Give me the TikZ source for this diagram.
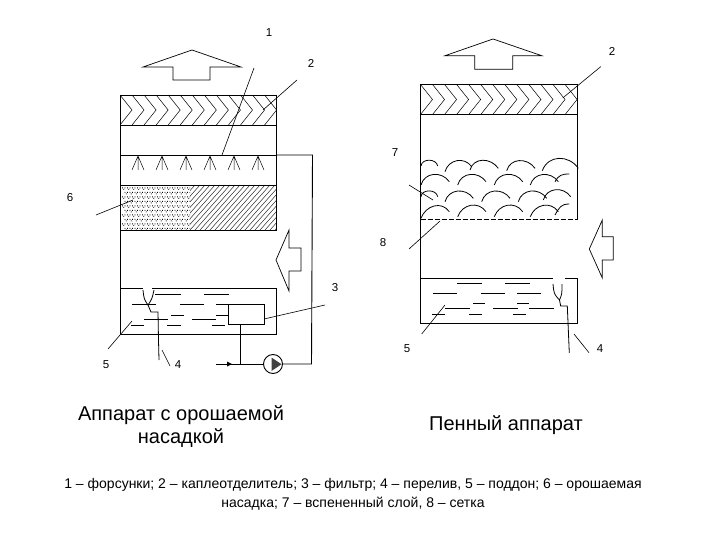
\documentclass[tikz,border=0pt]{standalone}
\usepackage{fontspec}
\setmainfont{Liberation Sans}
\usetikzlibrary{positioning, calc}

\newcommand{\chevrons}[2]{%
    \foreach \k in {0,...,12} {
        \draw[hatch] (#1+\k*12.05,#2) -- (#1+12+\k*12.05,#2+15) -- (#1+\k*12.05,#2+30);
    }
}

\begin{document}
\begin{tikzpicture}[
        x=1pt, y=-1pt,
        wall/.style={line width=0.9pt},
        hatch/.style={line width=0.5pt},
        leader/.style={line width=0.6pt},
        water/.style={line width=0.8pt},
        flowarrow/.style={line width=0.7pt},
        num/.style={font=\fontsize{11.5}{13}\selectfont, inner sep=0pt},
        caption/.style={font=\fontsize{20}{23}\selectfont, align=center, inner sep=0pt},
        legend/.style={font=\fontsize{14}{19}\selectfont, align=center, inner sep=0pt}
    ]
        \useasboundingbox (0,0) rectangle (720,540);

        % left apparatus
        \begin{scope}
            \clip (120,95) rectangle (276,125);
            \chevrons{120}{95}
        \end{scope}
        \begin{scope}
            \clip (190,185) rectangle (276,230);
            \foreach \k in {0,...,26} {
                \draw[line width=0.4pt] (190+\k*5-40,230) -- (190+\k*5,185);
            }
        \end{scope}
        \begin{scope}
            \clip (120,185) rectangle (190,230);
            \foreach \r in {0,...,9} {
                \foreach \c in {0,...,13} {
                    \fill ({122+\c*5+mod(\r,2)*2.5},{187.5+\r*4.5}) rectangle +(0.8,0.8)
                        ++(1.3,1.5) rectangle +(0.8,0.8)
                        ++(1.3,-1.5) rectangle +(0.8,0.8);
                }
            }
        \end{scope}
        \draw[wall] (120,95) rectangle (276,125);
        \draw[wall] (120,155) -- (276,155);
        \draw[wall] (120,185) rectangle (276,230);
        \draw[wall] (276,125) -- (276,185);
        \draw[wall] (120,125) -- (120,334) -- (276,334) -- (276,288);
        \foreach \x in {138,162,186,210,234,258} {
            \draw[hatch] (\x-6,170) -- (\x,156) -- (\x+6,170) (\x,156) -- (\x,170);
        }

        % water and overflow, left
        \draw[water] (121,288) -- (143,288) (152,288) -- (276,288);
        \foreach \xa/\xb/\y in {155/181/294, 204/229/294, 132/156/304, 180/204/304, 216/228/304,
                171/184/315, 216/228/315, 144/168/319, 192/216/319,
                131/144/325, 167/181/325, 212/225/325} {
            \draw[water] (\xa,\y) -- (\xb,\y);
        }
        \draw[water] (143,290) .. controls (144,299) .. (148,305) .. controls (152,299) .. (154,290);
        \draw[water] (148,305) -- (151,312) -- (158,312) -- (158.5,340) -- (159,360);

        % filter, pump and pipe
        \node[draw, wall, fill=white, minimum width=36pt, minimum height=20pt, inner sep=0pt] (filter) at (246.2,314) {};
        \node[draw, wall, circle, fill=white, minimum width=19pt, inner sep=0pt] (pump) at (273,364) {};
        \fill[black!75] (271.5,357.5) -- (281.5,364.2) -- (271.5,371) -- cycle;
        \coordinate (inlet) at (216,364);
        \coordinate (tee) at (240,364);
        \coordinate (corner) at (311.5,364);
        \coordinate (top) at (312.5,155);
        \draw[wall] (inlet) -- (pump);
        \draw[wall] (tee) -- (tee |- filter.south);
        \draw[wall] (pump) -- (corner) -- (top) -- (276,155);
        \fill (227,361.5) -- (232,364) -- (227,366.5) -- cycle;

        \draw[flowarrow] (192,50) -- (143,67) -- (173,67) -- (173,80) -- (210,80) -- (210,67) -- (241,67) -- cycle;
        \draw[flowarrow] (276,260) -- (289,230) -- (289,248) -- (301,248) -- (301,271) -- (289,271) -- (289,291) -- cycle;

        % right apparatus
        \begin{scope}
            \clip (420.5,84.5) rectangle (577.5,114.5);
            \chevrons{420.5}{84.5}
        \end{scope}
        \draw[wall] (420.5,84.5) rectangle (577.5,114.5);
        \draw[wall] (420.5,114) -- (420.5,323) -- (577.5,323) -- (577.5,278);
        \draw[wall] (577.5,114) -- (577.5,219);
        \draw[wall, dash pattern=on 5pt off 2pt] (420.5,219) -- (577.5,219);

        % foam
        \foreach \xa/\ya/\xb/\yb/\oa/\ob in {
                421/166/437.7/166/85/100, 445/171.7/471.7/166.7/75/125, 470/170/498.3/168.3/75/125,
                506.7/170.7/535/168.3/75/125, 542.3/170.7/578.3/168.3/70/125,
                421/185/449.3/181.7/75/125, 457.7/185/486/181.7/75/125, 494.3/185/522.7/181.7/75/125,
                530.3/185/558.3/181.7/75/125, 555/181.7/569.3/174/60/180,
                421/196.7/437.7/196.7/85/100, 445/201.7/473.3/198.3/75/125, 481.7/201.7/510/198.3/75/125,
                518.3/201.7/546.7/198.3/75/125, 543.3/200/570.7/196.7/75/125,
                421/218.3/449.3/211.7/70/125, 457.7/216.7/486/211.7/70/125, 494.3/216.7/522.7/211.7/70/125,
                530.3/216.7/558.3/211.7/70/125, 555/215/569.3/204/60/180} {
            \draw[water] (\xa,\ya) to[out=\oa, in=\ob, looseness=1.2] (\xb,\yb);
        }

        % water and overflow, right
        \draw[water] (420.5,278.5) -- (553,278.5) (565,278.5) -- (577.5,278.5);
        \foreach \xa/\xb/\y in {457/482/283, 505/530/283, 433/457/293, 481/505/293, 517/541/293,
                473/485/303, 517/529/303, 445/470/308, 493/518/308, 529/554/308,
                432/445/314, 469/482/314, 513/526/314} {
            \draw[water] (\xa,\y) -- (\xb,\y);
        }
        \draw[water] (553,284) .. controls (554,294) .. (559.5,300) .. controls (562,294) .. (562,284);
        \draw[water] (559.5,300) -- (560.7,306) -- (567.3,306) -- (569.3,353);

        \draw[flowarrow] (493,39) -- (445,55.7) -- (474.7,55.7) -- (474.7,69.3) -- (512.7,69.3) -- (512.7,55.7) -- (541.7,55.7) -- cycle;
        \draw[flowarrow] (589.3,249) -- (602.3,220) -- (602.3,236.7) -- (613.3,236.7) -- (613.3,260) -- (602.3,260) -- (602.3,278) -- cycle;

        % leader lines
        \foreach \n/\xa/\ya/\xb/\yb in {a/254/68/222/155, b/297/80/263/110, c/325/305/264/319,
                d/170/366/162/350, e/108/349/132/321, f/96/215/133/200,
                g/600.7/66.7/562.7/98, h/409/185/433/200, i/409/249/440/221,
                j/421.7/334/445/305, k/589/352.7/574/334} {
            \coordinate (from\n) at (\xa,\ya);
            \coordinate (to\n) at (\xb,\yb);
            \draw[leader] (from\n) -- (to\n);
        }

        % numbers
        \node[num] (n1) at (269,33) {1};
        \node[num] (n2) at (311,63) {2};
        \node[num] (n3) at (335,288) {3};
        \node[num] (n4) at (178,365) {4};
        \node[num] (n5) at (106,365) {5};
        \node[num] (n6) at (70,198) {6};
        \node[num] (m2) at (612,51) {2};
        \node[num] (m7) at (395,153) {7};
        \node[num] (m8) at (383,243) {8};
        \node[num] (m5) at (407,349) {5};
        \node[num] (m4) at (600,349) {4};

        % captions
        \node[caption] (capleft) at (181,427) {Аппарат с орошаемой\\насадкой};
        \node[caption] (capright) at (506,425) {Пенный аппарат};
        \node[legend] (key) at (353,494) {1 – форсунки; 2 – каплеотделитель; 3 – фильтр; 4 – перелив, 5 – поддон; 6 – орошаемая\\насадка; 7 – вспененный слой, 8 – сетка};
    \end{tikzpicture}
\end{document}
